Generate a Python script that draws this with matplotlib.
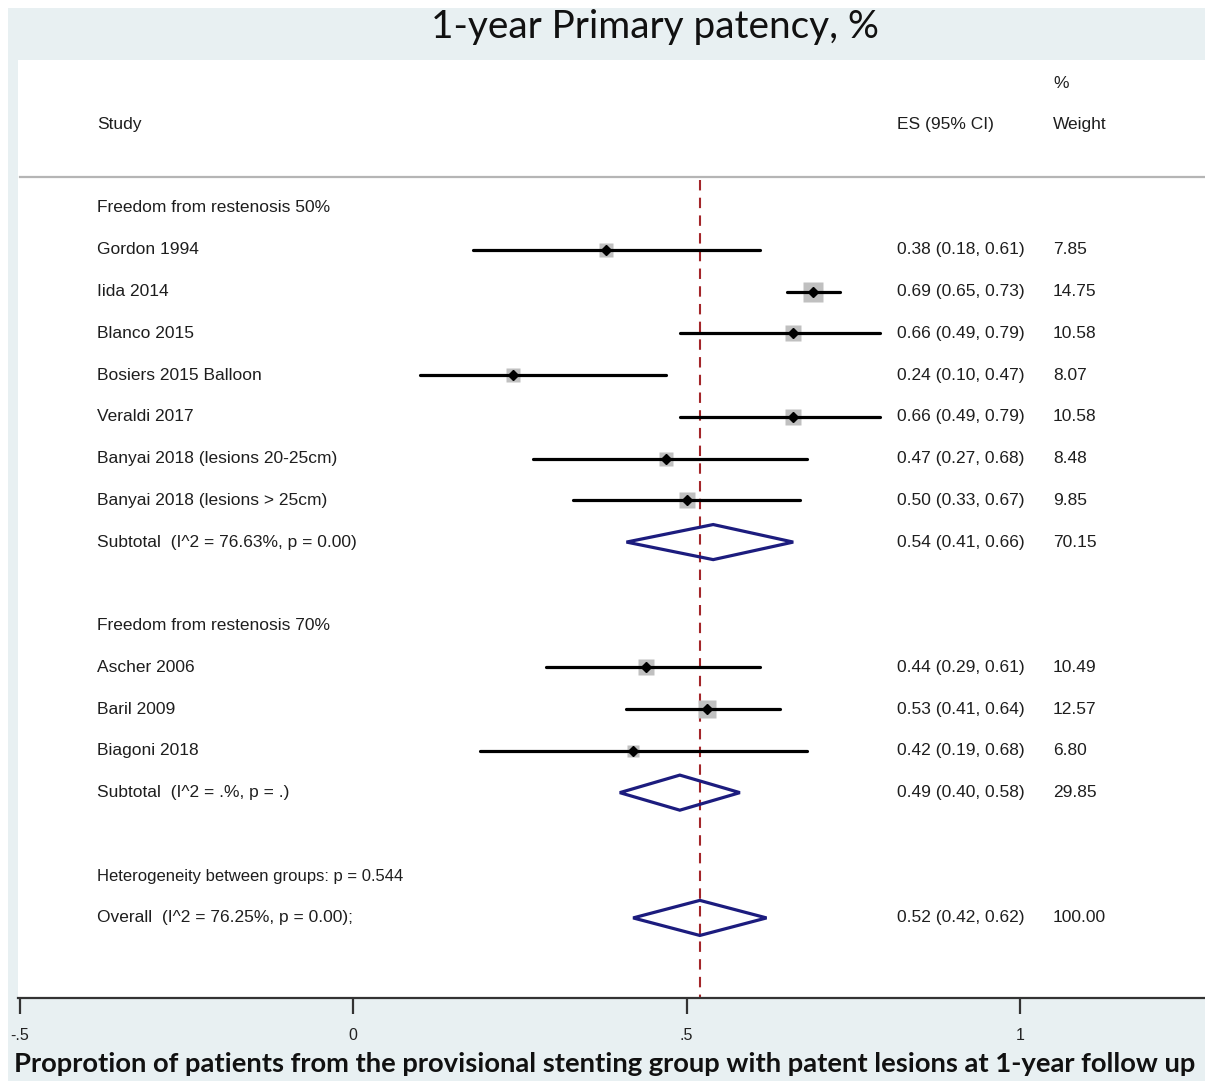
import matplotlib
matplotlib.use("Agg")
import matplotlib.pyplot as plt
from matplotlib.patches import Polygon, Rectangle
from matplotlib.transforms import blended_transform_factory
import numpy as np

# ---- data -------------------------------------------------------------
group1_label = "Freedom from restenosis 50%"
group1_studies = ["Gordon 1994", "Iida 2014", "Blanco 2015", "Bosiers 2015 Balloon",
                  "Veraldi 2017", "Banyai 2018 (lesions 20-25cm)", "Banyai 2018 (lesions > 25cm)"]
group1_es = [0.38, 0.69, 0.66, 0.24, 0.66, 0.47, 0.50]
group1_lo = [0.18, 0.65, 0.49, 0.10, 0.49, 0.27, 0.33]
group1_hi = [0.61, 0.73, 0.79, 0.47, 0.79, 0.68, 0.67]
group1_w = [7.85, 14.75, 10.58, 8.07, 10.58, 8.48, 9.85]
group1_sub = (0.54, 0.41, 0.66, 70.15)
group1_sub_label = "Subtotal  (I^2 = 76.63%, p = 0.00)"

group2_label = "Freedom from restenosis 70%"
group2_studies = ["Ascher 2006", "Baril 2009", "Biagoni 2018"]
group2_es = [0.44, 0.53, 0.42]
group2_lo = [0.29, 0.41, 0.19]
group2_hi = [0.61, 0.64, 0.68]
group2_w = [10.49, 12.57, 6.80]
group2_sub = (0.49, 0.40, 0.58, 29.85)
group2_sub_label = "Subtotal  (I^2 = .%, p = .)"

het_label = "Heterogeneity between groups: p = 0.544"
overall = (0.52, 0.42, 0.62, 100.00)
overall_label = "Overall  (I^2 = 76.25%, p = 0.00);"

xticks = [-0.5, 0, 0.5, 1]
xtick_labels = ["-.5", "0", ".5", "1"]

title = "1-year Primary patency, %"
xlabel = ("Proprotion of patients from the provisional stenting group "
          "with patent lesions at 1-year follow up")

# ---- figure -----------------------------------------------------------
W, H = 1205, 1081
fig = plt.figure(figsize=(W / 100, H / 100), dpi=100, facecolor="white")
BG = "#e8f0f2"
fig.patches.append(Rectangle((8 / W, 0), 1 - 8 / W, 1 - 8 / H, transform=fig.transFigure,
                             facecolor=BG, edgecolor="none", zorder=-10))

ax_left, ax_right = 18, 1205
ax_top, ax_bot = 60, 998
ax = fig.add_axes([ax_left / W, 1 - ax_bot / H, (ax_right - ax_left) / W, (ax_bot - ax_top) / H])
ax.set_facecolor("white")

# horizontal scale: 0 -> px 353, 667 px per unit
x0_px, ppu = 353, 667
ax.set_xlim((ax_left - x0_px) / ppu, (ax_right - x0_px) / ppu)

# vertical scale: one unit per row, first row at px 208, row pitch 41.76 px
row0_px, pitch = 208, 41.76
ax.set_ylim((ax_bot - row0_px) / pitch, (ax_top - row0_px) / pitch)

for s in ["top", "left", "right"]:
    ax.spines[s].set_visible(False)
ax.spines["bottom"].set_linewidth(1.6)
ax.spines["bottom"].set_color("#333333")
ax.set_yticks([])
ax.set_xticks(xticks)
ax.set_xticklabels(xtick_labels, fontfamily="Liberation Sans", fontsize=11.5, color="#222222")
ax.tick_params(axis="x", direction="out", length=11.5, width=1.6, color="#333333", pad=10)

blend = blended_transform_factory(ax.transAxes, ax.transData)
def colx(px):
    return (px - ax_left) / (ax_right - ax_left)

TXT = dict(fontfamily="Liberation Sans", fontsize=12.5, color="#1e1e1e", va="center",
           transform=blend)

# column headers
ax.text(colx(97), (125 - row0_px) / pitch, "Study", **TXT)
ax.text(colx(897), (125 - row0_px) / pitch, "ES (95% CI)", **TXT)
ax.text(colx(1053), (83 - row0_px) / pitch, "%", **TXT)
ax.text(colx(1053), (125 - row0_px) / pitch, "Weight", **TXT)
ax.plot([colx(20), 1.0], [(177 - row0_px) / pitch] * 2, color="#b5b5b5", lw=1.6,
        transform=blend, clip_on=False)

k_side = 4.95  # px of square side per sqrt(weight)

def study_row(y, name, es, lo, hi, w):
    ax.text(colx(97), y, name, **TXT)
    ax.text(colx(897), y, f"{es:.2f} ({lo:.2f}, {hi:.2f})", **TXT)
    ax.text(colx(1053), y, f"{w:.2f}", **TXT)
    side_px = k_side * np.sqrt(w)
    ax.plot([es], [y], marker="s", ms=side_px * 0.72, color="#c0c0c0", mec="none", zorder=3)
    ax.plot([lo, hi], [y, y], color="black", lw=2.3, solid_capstyle="round", zorder=4)
    ax.plot([es], [y], marker="D", ms=5, color="black", zorder=5)

def pooled_row(y, label, vals):
    es, lo, hi, w = vals
    ax.text(colx(97), y, label, **TXT)
    ax.text(colx(897), y, f"{es:.2f} ({lo:.2f}, {hi:.2f})", **TXT)
    ax.text(colx(1053), y, f"{w:.2f}", **TXT)
    hh = 0.42
    poly = Polygon([[lo, y], [es, y - hh], [hi, y], [es, y + hh]], closed=True,
                   facecolor="none", edgecolor="#1c1c7e", lw=2.3, joinstyle="miter", zorder=4)
    ax.add_patch(poly)

row = 0
ax.text(colx(97), row, group1_label, **TXT)
row += 1
for n, e, l, h, w in zip(group1_studies, group1_es, group1_lo, group1_hi, group1_w):
    study_row(row, n, e, l, h, w)
    row += 1
pooled_row(row, group1_sub_label, group1_sub)
row += 2
ax.text(colx(97), row, group2_label, **TXT)
row += 1
for n, e, l, h, w in zip(group2_studies, group2_es, group2_lo, group2_hi, group2_w):
    study_row(row, n, e, l, h, w)
    row += 1
pooled_row(row, group2_sub_label, group2_sub)
row += 2
ax.text(colx(97), row, het_label, **{**TXT, "fontsize": 12})
row += 1
pooled_row(row, overall_label, overall)

# overall effect reference line
ax.plot([overall[0]] * 2, [(180 - row0_px) / pitch, (ax_bot - row0_px) / pitch],
        color="#a3262a", lw=1.5, dashes=(5, 3.5), zorder=2)

# titles
fig.text(655 / W, 1 - 27 / H, title, ha="center", va="center",
         fontfamily="Lato", fontsize=27.9, color="#111111")
fig.text(605 / W, 1 - 1064 / H, xlabel, ha="center", va="center",
         fontfamily="Lato", fontweight="bold", fontsize=19.7, color="#111111")

fig.savefig("out.png", dpi=100, facecolor=fig.get_facecolor())
